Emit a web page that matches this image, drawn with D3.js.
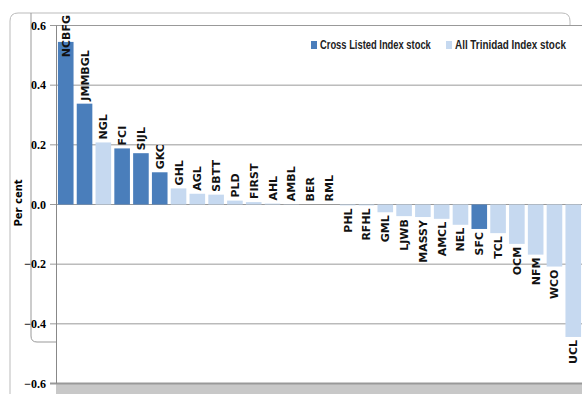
<!DOCTYPE html>
<html>
<head>
<meta charset="utf-8">
<script src="https://cdn.jsdelivr.net/npm/d3@7"></script>
<style>
  body { margin: 0; background: #fff; }
  svg { display: block; }
</style>
</head>
<body>
<script>
var stocks = ["NCBFG", "JMMBGL", "NGL", "FCI", "SIJL", "GKC", "GHL", "AGL", "SBTT", "PLD",
  "FIRST", "AHL", "AMBL", "BER", "RML", "PHL", "RFHL", "GML", "LJWB", "MASSY",
  "AMCL", "NEL", "SFC", "TCL", "OCM", "NFM", "WCO", "UCL"];
var changes = [0.545, 0.338, 0.208, 0.188, 0.172, 0.108, 0.054, 0.036, 0.033, 0.013,
  0.008, 0.003, 0.001, 0, 0, -0.003, -0.003, -0.026, -0.039, -0.042,
  -0.048, -0.068, -0.082, -0.096, -0.132, -0.168, -0.208, -0.444];
var crossListed = ["NCBFG", "JMMBGL", "FCI", "SIJL", "GKC", "SFC"];
var seriesNames = ["Cross Listed Index stock", "All Trinidad Index stock"];
var yTicks = [0.6, 0.4, 0.2, 0.0, -0.2, -0.4, -0.6];

var width = 582, height = 394;
var dark = "#4a7ebb", light = "#c6d9f0";

var svg = d3.select("body").append("svg")
    .attr("width", width)
    .attr("height", height);

// frame decorations
svg.append("path")
    .attr("d", "M10,394 V21 Q10,13 18,13 H562 Q570,13 570,21 V25")
    .attr("fill", "none").attr("stroke", "#bbb").attr("stroke-width", 1);
svg.append("path")
    .attr("d", "M31,13 V336 Q31,342 37,342 H56")
    .attr("fill", "none").attr("stroke", "#999").attr("stroke-width", 1);
svg.append("rect")
    .attr("x", 56).attr("y", 384).attr("width", width - 56).attr("height", 10)
    .attr("fill", "#c8c8c8");

var x = d3.scaleBand()
    .domain(stocks)
    .range([57, 582])
    .paddingInner(0.17)
    .paddingOuter(0.05);

var y = d3.scaleLinear()
    .domain([-0.6, 0.6])
    .range([383.5, 25.5]);

// grid lines
svg.append("g").selectAll("line")
    .data(yTicks)
  .enter().append("line")
    .attr("x1", 50).attr("x2", width)
    .attr("y1", function(d) { return y(d); })
    .attr("y2", function(d) { return y(d); })
    .attr("stroke", "#999")
    .attr("stroke-width", function(d) { return d === -0.6 ? 2 : 1; });

// y axis line
svg.append("line")
    .attr("x1", 56.5).attr("x2", 56.5)
    .attr("y1", y(0.6)).attr("y2", y(-0.6))
    .attr("stroke", "#888");

// tick labels
svg.append("g").selectAll("text")
    .data(yTicks)
  .enter().append("text")
    .attr("x", 46)
    .attr("y", function(d) { return y(d); })
    .attr("dy", "0.35em")
    .attr("text-anchor", "end")
    .style("font-family", "'Liberation Serif', serif")
    .style("font-weight", "bold")
    .style("font-size", "12px")
    .text(function(d) { return d3.format(".1f")(d); });

svg.append("text")
    .attr("transform", "translate(22,203) rotate(-90)")
    .attr("text-anchor", "middle")
    .style("font-family", "'DejaVu Sans', sans-serif")
    .style("font-weight", "bold")
    .style("font-size", "10px")
    .text("Per cent");

// bars
svg.append("g").selectAll("rect")
    .data(stocks)
  .enter().append("rect")
    .attr("x", function(d) { return x(d); })
    .attr("width", x.bandwidth())
    .attr("y", function(d, i) { return y(Math.max(0, changes[i])); })
    .attr("height", function(d, i) { return Math.abs(y(changes[i]) - y(0)); })
    .attr("fill", function(d) { return crossListed.indexOf(d) >= 0 ? dark : light; });

// bar labels
var labels = svg.append("g").selectAll("text")
    .data(stocks)
  .enter().append("text")
    .style("font-family", "'DejaVu Sans', sans-serif")
    .style("font-weight", "bold")
    .style("font-size", "11px")
    .style("fill", "#111")
    .text(function(d) { return d; });

labels.each(function(d, i) {
  var len = this.getComputedTextLength();
  var v = changes[i];
  var cx = x(d) + x.bandwidth() / 2 + 4;
  var base;
  if (v >= 0) {
    base = Math.max(y(v) - 3, 15 + len);
    d3.select(this).attr("text-anchor", "start")
      .attr("transform", "translate(" + cx + "," + base + ") rotate(-90)");
  } else {
    base = y(v) + 3;
    d3.select(this).attr("text-anchor", "end")
      .attr("transform", "translate(" + cx + "," + base + ") rotate(-90)");
  }
});

// legend
var legend = svg.append("g")
    .attr("transform", "translate(311,45)");
var items = legend.selectAll("g")
    .data(seriesNames)
  .enter().append("g")
    .attr("transform", function(d, i) { return "translate(" + (i * 135) + ",0)"; });
items.append("rect")
    .attr("x", 0).attr("y", -4)
    .attr("width", 6).attr("height", 8)
    .attr("fill", function(d, i) { return i === 0 ? dark : light; });
items.append("text")
    .attr("dy", "0.36em")
    .style("font-family", "'Liberation Sans', sans-serif")
    .style("font-weight", "bold")
    .style("font-size", "12px")
    .style("fill", "#222")
    .text(function(d) { return d; })
    .each(function() {
      var k = 111 / this.getComputedTextLength();
      d3.select(this).attr("transform", "translate(9,0) scale(" + k + ",1)");
    });
</script>
</body>
</html>
